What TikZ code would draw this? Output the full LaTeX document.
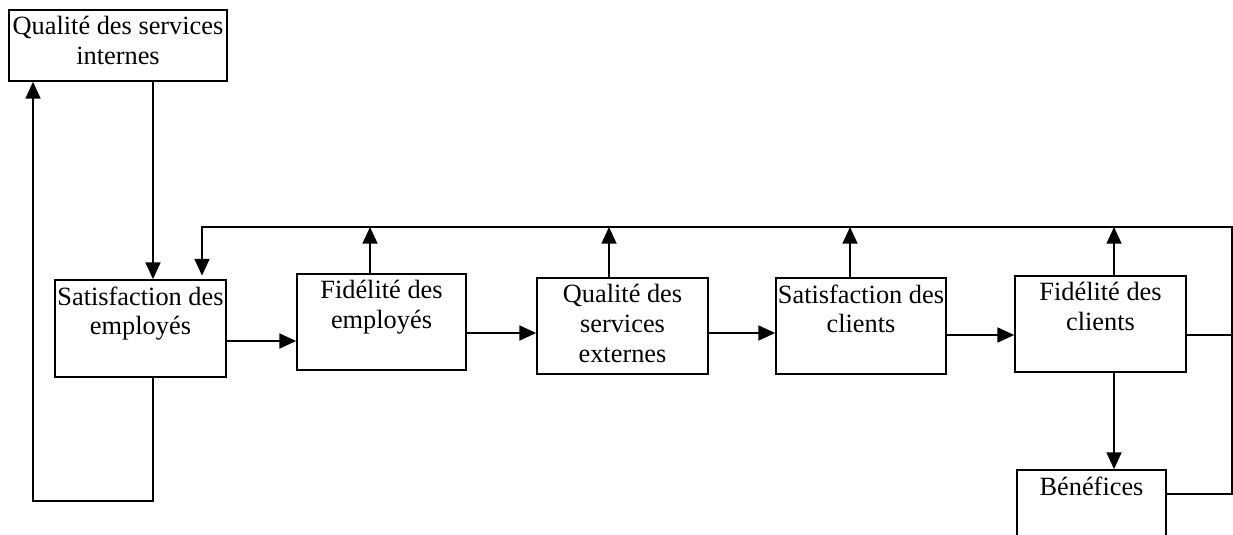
\documentclass[tikz,border=0pt]{standalone}
\usepackage{fontspec}
\setmainfont{Liberation Serif}
\usetikzlibrary{arrows.meta}
\tikzset{
  blk/.style={draw,line width=1pt,minimum width=3.42cm,minimum height=1.92cm,inner sep=0pt},
  blktxt/.style={anchor=north,align=center,inner sep=4pt,font=\fontsize{15}{17}\selectfont},
  flow/.style={-{Triangle[length=9.5pt,width=8.5pt]},line width=1pt},
  link/.style={line width=1pt},
}

\begin{document}
\begin{tikzpicture}[x=0.02cm,y=-0.02cm]
  \clip (0,0) rectangle (1233,534);

  % ---- guides ----
  \coordinate (ka) at (33,0);
  \coordinate (kb) at (153,0);
  \coordinate (kc) at (202,0);
  \coordinate (kd) at (370,0);
  \coordinate (ke) at (609,0);
  \coordinate (kf) at (850,0);
  \coordinate (kg) at (1114,0);
  \coordinate (r1) at (0,341);
  \coordinate (r2) at (0,333);
  \coordinate (r3) at (0,335);
  \coordinate (r4) at (0,494);
  \coordinate (top) at (1232,227);
  \coordinate (rb) at (1232,494);
  \coordinate (low) at (33,501);

  % ---- boxes ----
  \node[blk,minimum width=4.36cm,minimum height=1.42cm,
        label={[blktxt]north:{Qualité des services\\internes}}] (qsi) at (118,45.5) {};
  \node[blk,minimum height=1.94cm,
        label={[blktxt]north:{Satisfaction des\\employés}}] (se) at (140.5,328.5) {};
  \node[blk,minimum width=3.38cm,
        label={[blktxt]north:{Fidélité des\\employés}}] (fe) at (381.5,322) {};
  \node[blk,label={[blktxt]north:{Qualité des\\services\\externes}}] (qse) at (622.5,326) {};
  \node[blk,minimum width=3.40cm,
        label={[blktxt]north:{Satisfaction des\\clients}}] (sc) at (861,326) {};
  \node[blk,label={[blktxt]north:{Fidélité des\\clients}}] (fc) at (1100.5,324) {};
  \node[blk,minimum width=2.98cm,label={[blktxt]north:{Bénéfices}}] (ben) at (1091.5,518) {};

  % ---- chain ----
  \draw[flow] (qsi.south -| kb) -- (se.north -| kb);
  \draw[flow] (se.east |- r1) -- (fe.west |- r1);
  \draw[flow] (fe.east |- r2) -- (qse.west |- r2);
  \draw[flow] (qse.east |- r2) -- (sc.west |- r2);
  \draw[flow] (sc.east |- r3) -- (fc.west |- r3);
  \draw[flow] (fc.south -| kg) -- (ben.north -| kg);

  % ---- feedback ----
  \draw[flow] (se.south -| kb) |- (low) -- (qsi.south -| ka);
  \draw[flow] (fe.north -| kd) -- (top -| kd);
  \draw[flow] (qse.north -| ke) -- (top -| ke);
  \draw[flow] (sc.north -| kf) -- (top -| kf);
  \draw[flow] (fc.north -| kg) -- (top -| kg);
  \draw[link] (fc.east |- r3) -- (r3 -| top);
  \draw[flow,shorten >=2pt] (ben.east |- r4) -- (rb) -- (top) -- (top -| kc) -- (se.north -| kc);
\end{tikzpicture}
\end{document}
